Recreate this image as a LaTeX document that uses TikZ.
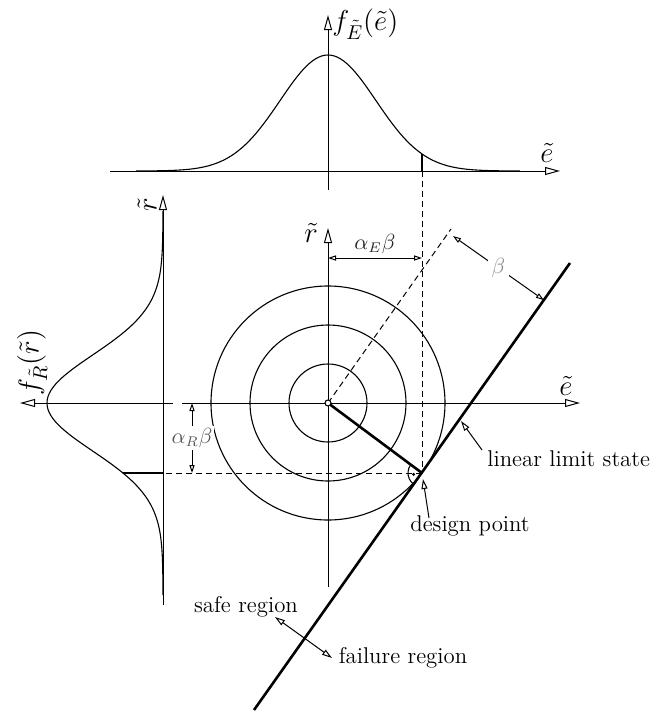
\documentclass[tikz,border=0pt]{standalone}
\usetikzlibrary{arrows.meta,calc}
\begin{document}
\begin{tikzpicture}[x=0.5pt,y=-0.5pt,
  thinline/.style={line width=0.55pt},
  axis/.style={line width=0.5pt,-{Triangle[open,length=7.5pt,width=4pt]}},
  dim/.style={line width=0.5pt,{Triangle[open,length=4pt,width=2.6pt]}-{Triangle[open,length=4pt,width=2.6pt]}},
  pointer/.style={line width=0.5pt,-{Triangle[open,length=5pt,width=3pt]}},
  dpointer/.style={line width=0.5pt,{Triangle[open,length=5pt,width=3pt]}-{Triangle[open,length=5pt,width=3pt]}},
  heavy/.style={line width=1.3pt},
  dashline/.style={line width=0.5pt,dash pattern=on 3pt off 2pt},
  txt/.style={font=\fontsize{11.4}{13}\selectfont, inner sep=0pt},
  mathlbl/.style={font=\fontsize{14.4}{17}\selectfont, inner sep=0pt},
  dimlbl/.style={font=\fontsize{10.5}{12}\selectfont, inner sep=1pt}]
\useasboundingbox (0,0) rectangle (654,713);

% key coordinates
\coordinate (O) at (328,403);
\coordinate (D) at (422,473);
\coordinate (P) at (451,229);
\coordinate (LT) at (570,263);
\coordinate (LB) at (254,710);

% ---------- top plot ----------
\coordinate (TEa) at (110,171); \coordinate (TEb) at (560,171);
\coordinate (TFa) at (328,190); \coordinate (TFb) at (328,15);
\draw[axis] (TEa) -- (TEb);
\draw[axis] (TFa) -- (TFb);
\node[mathlbl] (tel) at (547,153) {$\tilde{e}$};
\node[mathlbl, anchor=west] (tfl) at (332,24) {$f_{\tilde{E}}(\tilde{e})$};
\draw[thinline] plot[domain=-4:4, samples=121, smooth] ({328+48*\x},{171-116*exp(-\x*\x/2)});
\coordinate (TM0) at (422,171); \coordinate (TM1) at (422,154);
\draw[heavy] (TM0) -- (TM1);

% ---------- left plot ----------
\coordinate (LRa) at (163,605); \coordinate (LRb) at (163,195);
\coordinate (LFa) at (173,403); \coordinate (LFb) at (20,403);
\draw[axis] (LRa) -- (LRb);
\draw[axis] (LFa) -- (LFb);
\node[mathlbl, rotate=90] (lrl) at (147,205) {$\tilde{r}$};
\node[mathlbl, rotate=90, anchor=west] (lfl) at (32,396) {$f_{\tilde{R}}(\tilde{r})$};
\draw[thinline] plot[domain=-4:4, samples=121, smooth] ({163-116*exp(-\x*\x/2)},{403+48*\x});
\coordinate (LM0) at (163,473); \coordinate (LM1) at (123,473);
\draw[heavy] (LM0) -- (LM1);

% ---------- main plot ----------
\coordinate (MEa) at (182,403); \coordinate (MEb) at (580,403);
\coordinate (MRa) at (328,587); \coordinate (MRb) at (328,228);
\foreach \r in {39,78,117} \draw[thinline] (O) circle[radius=\r];
\draw[axis] (MEa) -- (MEb);
\draw[axis] (MRa) -- (MRb);
\node[mathlbl] (mel) at (566,386) {$\tilde{e}$};
\node[mathlbl] (mrl) at (311,233) {$\tilde{r}$};

% dashed helper lines
\draw[dashline] (TM0) -- (D);
\draw[dashline] (D) -- (LM0);
\draw[dashline] (O) -- (P);

% limit state line and design point radius
\draw[heavy] (LB) -- (LT);
\draw[heavy] (O) -- (D);
\draw[thinline, fill=white] (O) circle[radius=3];

% right-angle mark
\draw[thinline] ($(D)+(125.3:14)$) arc[start angle=125.3, end angle=216.7, radius=14];
\fill ($(D)+(171:8.5)$) circle[radius=1.6];

% dimension alpha_E beta
\coordinate (AE1) at (328,258); \coordinate (AE2) at (422,258);
\draw[dim] (AE1) -- (AE2) node[dimlbl, midway, above=1pt, text=black!85] {$\alpha_E\beta$};

% dimension alpha_R beta
\coordinate (AR1) at (192,403); \coordinate (AR2) at (192,473);
\draw[dim] (AR1) -- (AR2) node[dimlbl, midway, fill=white, text=black!65] {$\alpha_R\beta$};

% dimension beta
\coordinate (B1) at (453,236);
\coordinate (B2) at ($(D)!(B1)!(LT)$);
\draw[dim] (B1) -- (B2) node[dimlbl, midway, fill=white, inner sep=2pt, text=black!45] {$\beta$};

% annotations
\node[txt, anchor=base west] (lst) at (487,466) {linear limit state};
\coordinate (LSt) at (482,450); \coordinate (LSh) at (461,421);
\draw[pointer] (LSt) -- (LSh);

\node[txt, anchor=base] (dpt) at (470,531) {design point};
\coordinate (DPt) at (429,518); \coordinate (DPh) at (423,479);
\draw[pointer] (DPt) -- (DPh);

\node[txt, anchor=base] (safe) at (246,612) {safe region};
\node[txt, anchor=base] (fail) at (403,663) {failure region};
\coordinate (SR) at (275,617); \coordinate (FR) at (332,658);
\draw[dpointer] (SR) -- (FR);
\end{tikzpicture}
\end{document}
